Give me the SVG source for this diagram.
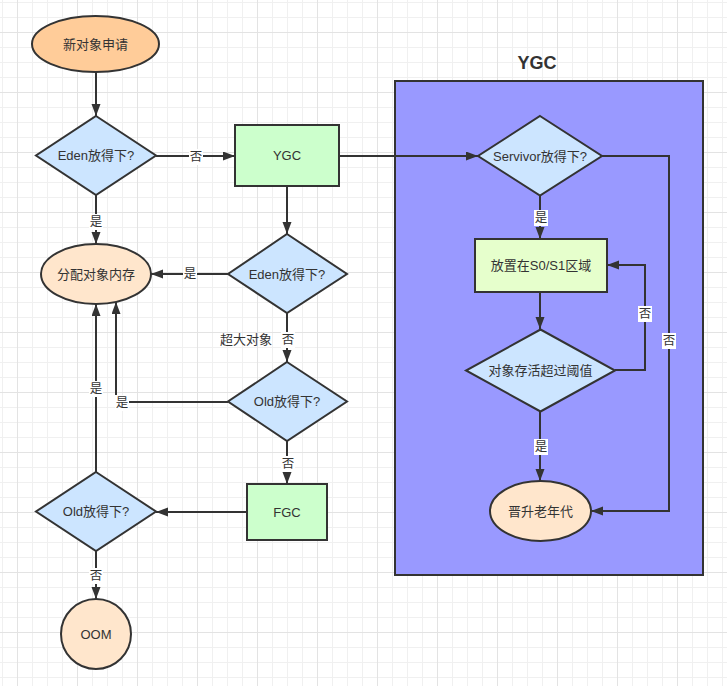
<svg xmlns="http://www.w3.org/2000/svg" width="727" height="686" viewBox="0 0 727 686">
<style>
.n{stroke:#333;stroke-width:2}
.t{font-family:"Liberation Sans","Noto Sans CJK SC",sans-serif;font-size:13px;fill:#333;text-anchor:middle;dominant-baseline:central}
.l{font-family:"Liberation Sans","Noto Sans CJK SC",sans-serif;font-size:12.5px;fill:#333;text-anchor:middle;dominant-baseline:central}
.c{fill:none;stroke:#333;stroke-width:2;marker-end:url(#ah)}
.lb{fill:#fff}
</style>
<defs>
<marker id="ah" markerUnits="userSpaceOnUse" markerWidth="13" markerHeight="10" refX="12" refY="4.5" orient="auto">
<path d="M0,0 L12,4.5 L0,9 z" fill="#333"/>
</marker>
<pattern id="grid" patternUnits="userSpaceOnUse" x="2" y="2" width="60" height="60">
<path d="M0.5,0 V60 M30.5,0 V60 M45.5,0 V60 M0,0.5 H60 M0,15.5 H60 M0,45.5 H60" stroke="#f0f0f0" stroke-width="1" fill="none"/>
<path d="M15.5,0 V60 M0,30.5 H60" stroke="#e3e3e3" stroke-width="1" fill="none"/>
</pattern>
</defs>
<rect width="727" height="686" fill="#fff"/>
<rect width="727" height="686" fill="url(#grid)"/>

<g id="ygc-container">
<rect x="395" y="81" width="308" height="494" fill="#9999ff" class="n"/>
<text x="537" y="63" class="t" style="font-size:18px;font-weight:bold">YGC</text>
</g>

<g id="connectors">
<path class="c" d="M96,72 L96,116"/>
<path class="c" d="M156,156 L235,156"/>
<path class="c" d="M96,195 L96,244"/>
<path class="c" d="M339,156 L478,156"/>
<path class="c" d="M287,186 L287,234"/>
<path class="c" d="M228,274 L151,274"/>
<path class="c" d="M287,313 L287,362"/>
<path class="c" d="M228,402 L116,402 L116,302"/>
<path class="c" d="M287,441 L287,484"/>
<path class="c" d="M247,512 L156,512"/>
<path class="c" d="M96,472 L96,304"/>
<path class="c" d="M96,551 L96,599"/>
<path class="c" d="M540,196 L540,239"/>
<path class="c" d="M540,292 L540,329"/>
<path class="c" d="M615,370 L645,370 L645,265 L607,265"/>
<path class="c" d="M540,412 L540,481"/>
<path class="c" d="M602,156 L669,156 L669,511 L591,511"/>
<g id="labels">
<rect class="lb" x="189" y="149" width="14" height="16"/><text class="l" x="196" y="157">否</text>
<rect class="lb" x="89" y="214" width="14" height="16"/><text class="l" x="96" y="222">是</text>
<rect class="lb" x="183" y="266" width="14" height="16"/><text class="l" x="190" y="274">是</text>
<rect class="lb" x="281" y="332" width="14" height="16"/><text class="l" x="288" y="340">否</text>
<text class="t" x="246" y="339">超大对象</text>
<rect class="lb" x="115" y="395" width="14" height="16"/><text class="l" x="122" y="403">是</text>
<rect class="lb" x="281" y="456" width="14" height="16"/><text class="l" x="288" y="464">否</text>
<rect class="lb" x="89" y="381" width="14" height="16"/><text class="l" x="96" y="389">是</text>
<rect class="lb" x="89" y="568" width="14" height="16"/><text class="l" x="96" y="576">否</text>
<rect class="lb" x="534" y="210" width="14" height="16"/><text class="l" x="541" y="218">是</text>
<rect class="lb" x="638" y="306" width="14" height="16"/><text class="l" x="645" y="314">否</text>
<rect class="lb" x="534" y="439" width="14" height="16"/><text class="l" x="541" y="447">是</text>
<rect class="lb" x="662" y="333" width="14" height="16"/><text class="l" x="669" y="341">否</text>
</g>
</g>

<g id="start">
<ellipse cx="95.5" cy="44" rx="63.5" ry="28" fill="#ffcc99" class="n"/>
<text class="t" x="95.5" y="44">新对象申请</text>
</g>
<g id="eden1">
<polygon points="96,116 156,155.5 96,195 36,155.5" fill="#cce5ff" class="n"/>
<text class="t" x="96" y="155.5">Eden放得下?</text>
</g>
<g id="ygc">
<rect x="235" y="125" width="104" height="61" fill="#ccffcc" class="n"/>
<text class="t" x="287" y="155.5">YGC</text>
</g>
<g id="alloc">
<ellipse cx="96" cy="274" rx="55" ry="30" fill="#ffe6cc" class="n"/>
<text class="t" x="96" y="274">分配对象内存</text>
</g>
<g id="eden2">
<polygon points="287,234 347,274 287,313 228,274" fill="#cce5ff" class="n"/>
<text class="t" x="287" y="274">Eden放得下?</text>
</g>
<g id="old1">
<polygon points="287,362 347,401.5 287,441 228,401.5" fill="#cce5ff" class="n"/>
<text class="t" x="287" y="401.5">Old放得下?</text>
</g>
<g id="fgc">
<rect x="247" y="484" width="80" height="56" fill="#ccffcc" class="n"/>
<text class="t" x="287" y="512">FGC</text>
</g>
<g id="old2">
<polygon points="96,472 156,511.5 96,551 36,511.5" fill="#cce5ff" class="n"/>
<text class="t" x="96" y="511.5">Old放得下?</text>
</g>
<g id="oom">
<circle cx="96" cy="634" r="35" fill="#ffe6cc" class="n"/>
<text class="t" x="96" y="634">OOM</text>
</g>
<g id="servivor">
<polygon points="540,116 602,156 540,195.5 478,156" fill="#cce5ff" class="n"/>
<text class="t" x="540" y="156">Servivor放得下?</text>
</g>
<g id="place">
<rect x="475" y="239" width="132" height="53" fill="#e6ffcc" class="n"/>
<text class="t" x="541" y="265.5">放置在S0/S1区域</text>
</g>
<g id="threshold">
<polygon points="540.5,329.5 615,370.5 540.5,411.5 466,370.5" fill="#cce5ff" class="n"/>
<text class="t" x="540.5" y="370.5">对象存活超过阈值</text>
</g>
<g id="promote">
<ellipse cx="540.5" cy="511" rx="50.5" ry="30" fill="#ffe6cc" class="n"/>
<text class="t" x="540.5" y="511">晋升老年代</text>
</g>
</svg>
